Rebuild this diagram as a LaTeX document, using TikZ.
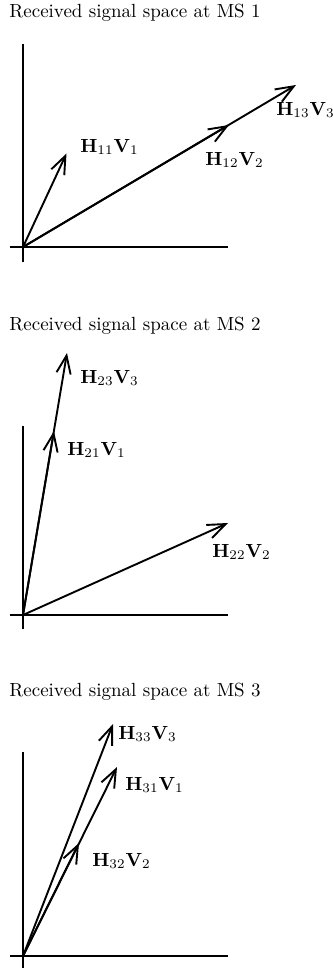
\documentclass[tikz,border=0pt]{standalone}
\usetikzlibrary{arrows.meta}
\begin{document}
\begin{tikzpicture}[x=0.526pt,y=-0.526pt,
  axis/.style={line width=1.2pt},
  vec/.style={line width=1pt,-{Straight Barb[length=9.5pt,width=7.5pt,line width=1pt]}},
  lbl/.style={anchor=west,inner sep=0pt},
  ttl/.style={anchor=base west,inner sep=0pt}]
\useasboundingbox (0,0) rectangle (333,969);
% Panel 1
\node[ttl] (t1) at (9,18) {Received signal space at MS 1};
\coordinate (o1) at (23,247);
\coordinate (ya1) at (23,44);
\coordinate (yb1) at (23,262);
\coordinate (xa1) at (10,247);
\coordinate (xb1) at (228,247);
\draw[axis] (ya1) -- (yb1);
\draw[axis] (xa1) -- (xb1);
\coordinate (p11) at (66.5,153.5);
\coordinate (p12) at (229,125);
\coordinate (p13) at (296,85);
\draw[vec] (o1) -- (p11);
\draw[vec] (o1) -- (p13);
\draw[vec] (o1) -- (p12);
\node[lbl] (l11) at (80,147) {$\mathbf{H}_{11}\mathbf{V}_1$};
\node[lbl] (l12) at (205,160) {$\mathbf{H}_{12}\mathbf{V}_2$};
\node[lbl] (l13) at (276,110) {$\mathbf{H}_{13}\mathbf{V}_3$};
% Panel 2
\node[ttl] (t2) at (9,330) {Received signal space at MS 2};
\coordinate (o2) at (23,615);
\coordinate (ya2) at (23,426);
\coordinate (yb2) at (23,629);
\coordinate (xa2) at (10,615);
\coordinate (xb2) at (228,615);
\draw[axis] (ya2) -- (yb2);
\draw[axis] (xa2) -- (xb2);
\coordinate (p23) at (67,353);
\coordinate (p21) at (54,431);
\coordinate (p22) at (228,523);
\draw[vec] (o2) -- (p23);
\draw[vec] (o2) -- (p21);
\draw[vec] (o2) -- (p22);
\node[lbl] (l23) at (80,378) {$\mathbf{H}_{23}\mathbf{V}_3$};
\node[lbl] (l21) at (67,450) {$\mathbf{H}_{21}\mathbf{V}_1$};
\node[lbl] (l22) at (212,552) {$\mathbf{H}_{22}\mathbf{V}_2$};
% Panel 3
\node[ttl] (t3) at (9,696) {Received signal space at MS 3};
\coordinate (o3) at (23,956);
\coordinate (ya3) at (23,752);
\coordinate (yb3) at (23,968);
\coordinate (xa3) at (10,956);
\coordinate (xb3) at (228,956);
\draw[axis] (ya3) -- (yb3);
\draw[axis] (xa3) -- (xb3);
\coordinate (p33) at (113,724);
\coordinate (p31) at (117,767);
\coordinate (p32) at (79,843);
\draw[vec] (o3) -- (p33);
\draw[vec] (o3) -- (p31);
\draw[vec] (o3) -- (p32);
\node[lbl] (l33) at (118,734) {$\mathbf{H}_{33}\mathbf{V}_3$};
\node[lbl] (l31) at (125,785) {$\mathbf{H}_{31}\mathbf{V}_1$};
\node[lbl] (l32) at (92,861) {$\mathbf{H}_{32}\mathbf{V}_2$};
\end{tikzpicture}
\end{document}
